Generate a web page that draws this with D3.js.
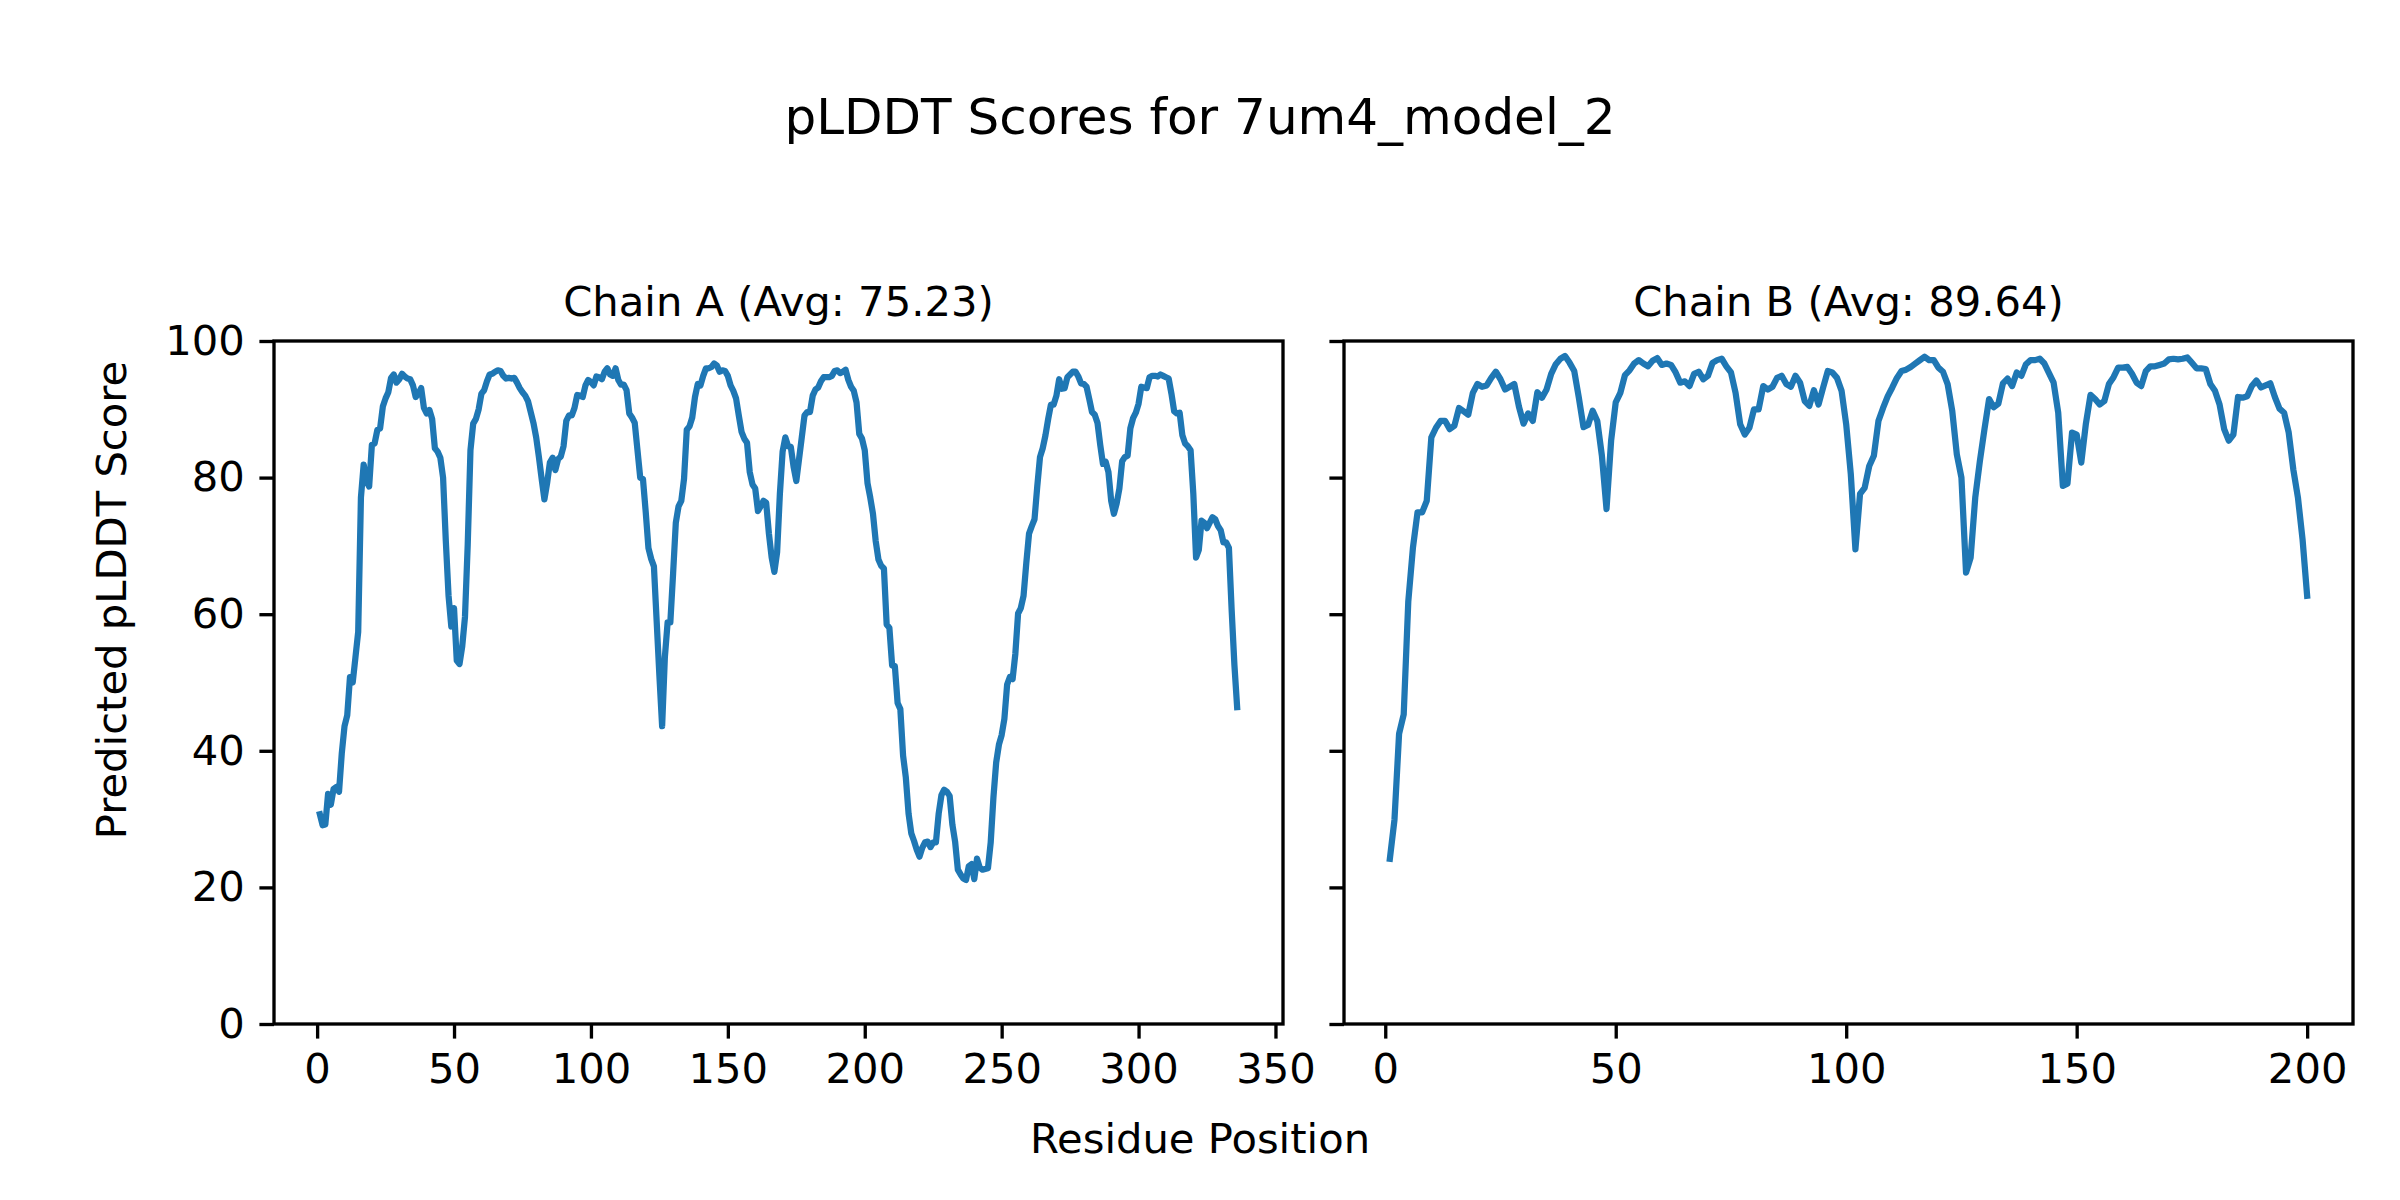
<!DOCTYPE html>
<html>
<head>
<meta charset="utf-8">
<script src="https://cdn.jsdelivr.net/npm/d3@7"></script>
<style>
  body { margin: 0; background: #ffffff; }
  svg { display: block; }
  text { font-family: "DejaVu Sans", sans-serif; fill: #000; }
</style>
</head>
<body>
<svg id="chart" width="2400" height="1200"></svg>
<script>
// ---------- data ----------
const figureTitle = "pLDDT Scores for 7um4_model_2";
const xAxisLabel = "Residue Position";
const yAxisLabel = "Predicted pLDDT Score";
const chainTitles = ["Chain A (Avg: 75.23)", "Chain B (Avg: 89.64)"];

const chainA = [
  30.7, 29.1, 29.2, 33.7, 32.1, 34.4, 34.7, 34.0, 39.6, 43.6,
  45.2, 50.8, 50.0, 53.7, 57.4, 77.1, 81.9, 79.5, 78.7, 84.8,
  85.0, 87.0, 87.2, 90.4, 91.6, 92.5, 94.6, 95.1, 93.9, 94.4,
  95.2, 94.8, 94.5, 94.4, 93.5, 91.8, 92.3, 93.1, 90.2, 89.4,
  89.9, 88.6, 84.3, 83.8, 82.9, 80.0, 70.7, 62.7, 58.2, 60.9,
  53.2, 52.7, 55.3, 59.6, 70.2, 84.0, 87.9, 88.6, 90.0, 92.3,
  92.8, 94.1, 95.1, 95.2, 95.5, 95.7, 95.6, 94.9, 94.5, 94.6,
  94.5, 94.6, 93.9, 93.1, 92.5, 92.0, 91.2, 89.6, 88.0, 85.9,
  83.0, 79.8, 76.8, 79.2, 82.2, 82.9, 81.1, 82.7, 83.1, 84.6,
  88.3, 89.1, 89.1, 90.2, 92.1, 92.0, 91.8, 93.5, 94.3, 94.0,
  93.5, 94.8, 94.7, 94.4, 95.5, 96.0, 95.1, 94.9, 96.0, 94.3,
  93.6, 93.6, 92.8, 89.4, 88.8, 88.0, 84.0, 80.0, 79.8, 75.0,
  69.7, 68.1, 67.0, 59.0, 51.0, 43.6, 53.7, 58.8, 58.8, 65.9,
  73.4, 75.8, 76.6, 79.8, 87.0, 87.5, 88.8, 91.8, 93.7, 93.5,
  94.9, 96.0, 96.0, 96.2, 96.7, 96.4, 95.5, 95.7, 95.6, 94.9,
  93.5, 92.7, 91.6, 89.1, 86.7, 85.7, 85.1, 80.8, 79.0, 78.4,
  75.1, 75.8, 76.6, 76.3, 71.8, 68.3, 66.2, 69.1, 77.6, 83.8,
  85.9, 84.6, 84.5, 81.6, 79.5, 82.7, 85.9, 89.1, 89.6, 89.6,
  92.0, 92.9, 93.2, 94.1, 94.7, 94.7, 94.7, 94.9, 95.6, 95.7,
  95.3, 95.5, 95.8, 94.3, 93.3, 92.7, 91.0, 86.4, 85.7, 84.0,
  79.2, 77.1, 74.7, 70.7, 68.0, 67.1, 66.7, 58.5, 58.0, 52.5,
  52.4, 47.0, 46.1, 39.3, 36.1, 30.8, 27.9, 26.8, 25.5, 24.5,
  25.8, 26.6, 26.7, 25.9, 26.6, 26.6, 30.8, 33.5, 34.3, 34.0,
  33.4, 29.2, 26.7, 22.6, 21.9, 21.3, 21.1, 23.1, 23.4, 21.2,
  24.2, 22.9, 22.6, 22.7, 22.8, 26.6, 33.2, 38.3, 40.9, 42.3,
  44.7, 49.7, 50.8, 50.5, 54.2, 60.1, 60.9, 62.7, 67.5, 71.8,
  72.9, 73.9, 78.7, 83.0, 84.3, 86.2, 88.6, 90.7, 90.7, 92.0,
  94.4, 93.0, 93.1, 94.7, 95.1, 95.5, 95.5, 94.8, 93.8, 93.7,
  93.3, 91.5, 89.6, 89.2, 88.0, 84.8, 82.0, 82.3, 80.8, 76.6,
  74.7, 76.2, 78.4, 82.4, 83.0, 83.2, 87.2, 88.7, 89.5, 90.8,
  93.3, 93.2, 93.1, 94.7, 94.9, 94.9, 94.8, 95.1, 94.9, 94.7,
  94.5, 92.3, 89.7, 89.4, 89.5, 86.2, 85.0, 84.6, 84.0, 77.6,
  68.3, 69.4, 73.7, 73.4, 72.6, 73.4, 74.2, 73.9, 72.9, 72.3,
  70.5, 70.5, 69.7, 60.6, 52.6, 46.4
];

const chainB = [
  24.2, 29.9, 42.5, 45.3, 61.9, 69.7, 74.9, 74.9, 76.6, 85.9,
  87.3, 88.3, 88.3, 87.1, 87.6, 90.2, 89.7, 89.2, 92.4, 93.7,
  93.3, 93.5, 94.6, 95.5, 94.4, 92.9, 93.3, 93.7, 90.4, 87.9,
  89.4, 88.3, 92.5, 91.7, 92.9, 95.2, 96.6, 97.4, 97.8, 96.8,
  95.6, 91.7, 87.4, 87.7, 89.8, 88.3, 83.2, 75.4, 85.4, 91.0,
  92.4, 95.0, 95.7, 96.7, 97.2, 96.7, 96.3, 97.1, 97.5, 96.5,
  96.7, 96.5, 95.4, 93.9, 94.1, 93.4, 95.2, 95.5, 94.4, 94.9,
  96.8, 97.2, 97.4, 96.3, 95.4, 92.4, 87.8, 86.3, 87.3, 90.0,
  90.0, 93.4, 92.9, 93.3, 94.6, 94.9, 93.7, 93.3, 94.9, 93.9,
  91.2, 90.5, 92.8, 90.7, 93.2, 95.6, 95.4, 94.6, 92.7, 87.8,
  80.5, 69.5, 77.6, 78.5, 81.7, 83.2, 88.3, 90.2, 91.9, 93.2,
  94.6, 95.6, 95.8, 96.2, 96.7, 97.2, 97.7, 97.2, 97.2, 96.1,
  95.5, 93.7, 89.8, 83.4, 80.0, 66.1, 68.3, 77.1, 82.4, 87.1,
  91.5, 90.3, 90.8, 93.8, 94.5, 93.4, 95.4, 94.9, 96.6, 97.2,
  97.2, 97.4, 96.7, 95.3, 93.9, 89.5, 78.8, 79.1, 86.6, 86.3,
  82.2, 87.9, 92.1, 91.5, 90.7, 91.2, 93.7, 94.7, 96.1, 96.1,
  96.2, 95.2, 93.9, 93.4, 95.6, 96.3, 96.3, 96.5, 96.7, 97.3,
  97.4, 97.3, 97.4, 97.6, 96.8, 96.0, 96.0, 95.9, 93.7, 92.7,
  90.7, 87.1, 85.4, 86.3, 91.8, 91.7, 91.9, 93.4, 94.2, 93.2,
  93.5, 93.8, 91.8, 90.1, 89.5, 86.6, 81.2, 77.1, 71.0, 62.7
];

const xTicksA = [0, 50, 100, 150, 200, 250, 300, 350];
const xTicksB = [0, 50, 100, 150, 200];
const yTicks = [0, 20, 40, 60, 80, 100];

// ---------- layout ----------
const W = 2400, H = 1200;
const panelTop = 341, panelBottom = 1024;
const panels = [
  { left: 274, right: 1283, data: chainA, ticks: xTicksA, title: chainTitles[0], showY: true },
  { left: 1344, right: 2353, data: chainB, ticks: xTicksB, title: chainTitles[1], showY: false }
];
const lineColor = "#1f77b4";
const lw = 6.25;          // 1.5pt @300dpi
const spineW = 3.33;      // 0.8pt
const tickLen = 14.6;     // 3.5pt
const tickPad = 14.6;
const fsTick = 41.7;      // 10pt
const fsTitle = 50;       // 12pt

const svg = d3.select("#chart");
svg.append("rect").attr("width", W).attr("height", H).attr("fill", "#fff");

const y = d3.scaleLinear().domain([0, 100]).range([panelBottom, panelTop]);

panels.forEach(p => {
  const n = p.data.length;
  const margin = 0.05 * (n - 1);
  const x = d3.scaleLinear().domain([1 - margin, n + margin]).range([p.left, p.right]);
  const g = svg.append("g");

  // line
  const line = d3.line().x((d, i) => x(i + 1)).y(d => y(d));
  g.append("path")
    .datum(p.data)
    .attr("d", line)
    .attr("fill", "none")
    .attr("stroke", lineColor)
    .attr("stroke-width", lw)
    .attr("stroke-linejoin", "round")
    .attr("stroke-linecap", "square");

  // x axis
  const xAxis = d3.axisBottom(x).tickValues(p.ticks).tickSize(tickLen).tickPadding(tickPad).tickFormat(d3.format("d"));
  const gx = g.append("g").attr("transform", `translate(0,${panelBottom})`).call(xAxis);
  gx.select(".domain").remove();
  gx.selectAll(".tick line").attr("stroke", "#000").attr("stroke-width", spineW);
  gx.selectAll(".tick text").attr("font-size", fsTick).attr("font-family", "DejaVu Sans").attr("fill", "#000");

  // y axis
  const yAxis = d3.axisLeft(y).tickValues(yTicks).tickSize(tickLen).tickPadding(tickPad)
    .tickFormat(p.showY ? d3.format("d") : () => "");
  const gy = g.append("g").attr("transform", `translate(${p.left},0)`).call(yAxis);
  gy.select(".domain").remove();
  gy.selectAll(".tick line").attr("stroke", "#000").attr("stroke-width", spineW);
  gy.selectAll(".tick text").attr("font-size", fsTick).attr("font-family", "DejaVu Sans").attr("fill", "#000");

  // spines
  g.append("rect")
    .attr("x", p.left).attr("y", panelTop)
    .attr("width", p.right - p.left).attr("height", panelBottom - panelTop)
    .attr("fill", "none").attr("stroke", "#000").attr("stroke-width", spineW)
    .attr("stroke-linejoin", "miter");

  // panel title
  g.append("text")
    .attr("x", (p.left + p.right) / 2).attr("y", panelTop - 25)
    .attr("text-anchor", "middle").attr("font-size", fsTick)
    .text(p.title);
});

// figure title
svg.append("text")
  .attr("x", W / 2).attr("y", 134)
  .attr("text-anchor", "middle").attr("font-size", fsTitle)
  .text(figureTitle);

// shared x label
svg.append("text")
  .attr("x", W / 2).attr("y", 1153)
  .attr("text-anchor", "middle").attr("font-size", fsTick)
  .text(xAxisLabel);

// shared y label
svg.append("text")
  .attr("transform", `translate(126,${H / 2}) rotate(-90)`)
  .attr("text-anchor", "middle").attr("font-size", fsTick)
  .text(yAxisLabel);
</script>
</body>
</html>
